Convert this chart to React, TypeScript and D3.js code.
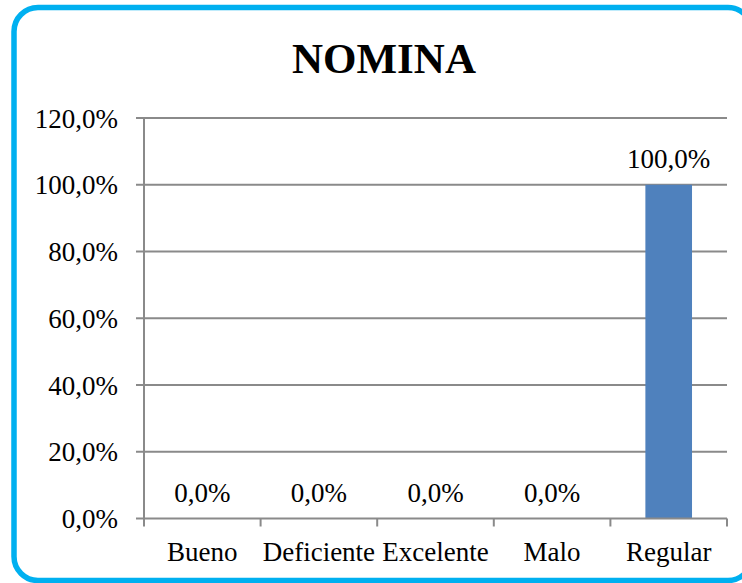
import React from 'react';
import * as d3 from 'd3';

const categories = ['Bueno', 'Deficiente', 'Excelente', 'Malo', 'Regular'];
const values = [0, 0, 0, 0, 100];
const yTicks = [0, 20, 40, 60, 80, 100, 120];

const W = 742;
const H = 583;
const fmt = (v: number) => v.toFixed(1).replace('.', ',') + '%';

const App: React.FC = () => {
  const left = 144;
  const right = 727;
  const top = 118;
  const bottom = 518.5;
  const font = '"Liberation Serif", serif';

  const x = d3.scaleBand<string>().domain(categories).range([left, right]).padding(0);
  const y = d3.scaleLinear().domain([0, 120]).range([bottom, top]);
  const barW = x.bandwidth() * 0.4;
  const edges = [...categories.map(c => x(c) as number), right];

  return (
    <svg width={W} height={H} style={{ position: 'absolute', left: 0, top: 0 }}>
      <rect x={0} y={0} width={W} height={H} fill="#fff" />
      <rect x={14} y={7.5} width={738} height={573} rx={24} ry={24}
        fill="#fff" stroke="#00B0F0" strokeWidth={5.5} />
      <text x={384} y={73} textAnchor="middle" fontFamily={font} fontWeight="bold" fontSize={43}>
        NOMINA
      </text>

      {yTicks.map(t => (
        <g key={t}>
          {t > 0 && <line x1={left} x2={right} y1={y(t)} y2={y(t)} stroke="#8a8a8a" strokeWidth={2} />}
          <line x1={136} x2={left} y1={y(t)} y2={y(t)} stroke="#8a8a8a" strokeWidth={2} />
          <text x={118} y={y(t) + 9.5} textAnchor="end" fontFamily={font} fontSize={27}>{fmt(t)}</text>
        </g>
      ))}

      {categories.map((c, i) => {
        const cx = (x(c) as number) + x.bandwidth() / 2;
        return (
          <g key={c}>
            {values[i] > 0 && (
              <rect x={cx - barW / 2} y={y(values[i])} width={barW} height={bottom - y(values[i])} fill="#4F81BD" />
            )}
            <text x={cx} y={y(values[i]) - 17} textAnchor="middle" fontFamily={font} fontSize={27}>{fmt(values[i])}</text>
            <text x={cx} y={560.5} textAnchor="middle" fontFamily={font} fontSize={27}>{c}</text>
          </g>
        );
      })}

      <line x1={left} x2={left} y1={top} y2={bottom} stroke="#8a8a8a" strokeWidth={2} />
      <line x1={left} x2={right} y1={bottom} y2={bottom} stroke="#8a8a8a" strokeWidth={2} />
      {edges.map((e, i) => (
        <line key={i} x1={e} x2={e} y1={bottom} y2={bottom + 8} stroke="#8a8a8a" strokeWidth={2} />
      ))}
    </svg>
  );
};

export default App;
